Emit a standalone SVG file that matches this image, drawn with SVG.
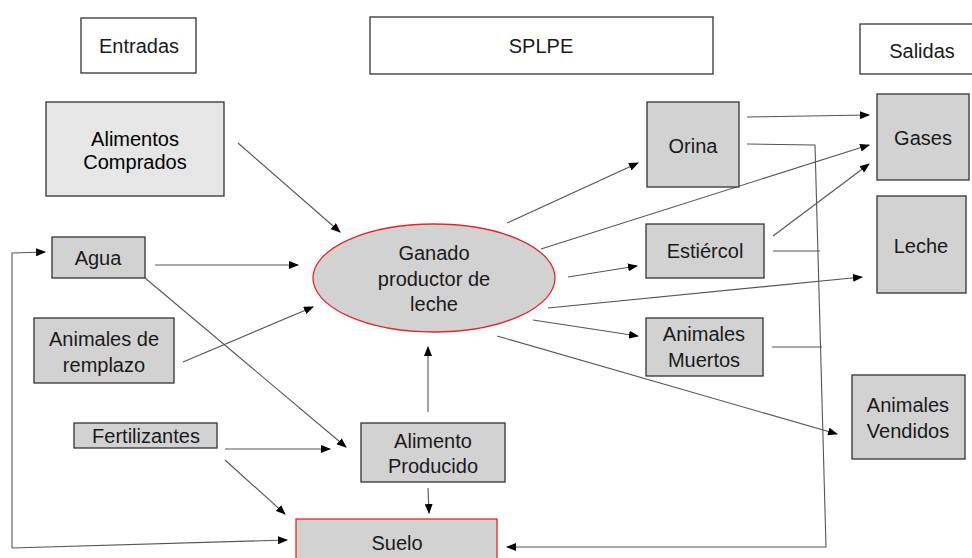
<svg xmlns="http://www.w3.org/2000/svg" width="972" height="558" viewBox="0 0 972 558">
<style>
.t{font-family:"Liberation Sans","Open Sans",sans-serif;font-size:20px;fill:#1a1a1a;text-anchor:middle}
.a{font-family:"Liberation Sans",Arial,sans-serif;font-size:20px;fill:#000;text-anchor:middle}
.w{fill:#fff;stroke:#333;stroke-width:1.3}
.g{fill:#d3d2d3;stroke:#333;stroke-width:1.3}
.lg{fill:#e6e6e6;stroke:#333;stroke-width:1.3}
.r{fill:#d3d2d3;stroke:#e8242a;stroke-width:1.3}
.c{fill:none;stroke:#555;stroke-width:1.1}
.m{marker-end:url(#ah)}
</style>
<defs>
<marker id="ah" markerWidth="10" markerHeight="8" refX="9" refY="4" orient="auto" markerUnits="userSpaceOnUse">
<path d="M0,0 L10,4 L0,8 Z" fill="#000"/>
</marker>
</defs>
<rect width="972" height="558" fill="#fff"/>
<g id="connectors">
<line class="c m" x1="238" y1="143" x2="340" y2="232"/>
<line class="c m" x1="155" y1="265" x2="298" y2="265"/>
<line class="c m" x1="145" y1="278" x2="346" y2="447"/>
<line class="c m" x1="183" y1="362" x2="313" y2="307"/>
<line class="c m" x1="225" y1="449" x2="330" y2="449"/>
<line class="c m" x1="225" y1="460" x2="285" y2="514"/>
<polyline class="c m" points="12,548 12,253 45,252"/>
<line class="c m" x1="12" y1="548" x2="287" y2="540"/>
<line class="c m" x1="428" y1="412" x2="428" y2="347"/>
<line class="c m" x1="428" y1="488" x2="429" y2="513"/>
<polyline class="c m" points="747,144 815,145 826,547 507,547"/>
<line class="c" x1="773" y1="251" x2="820" y2="251"/>
<line class="c" x1="772" y1="347" x2="822" y2="347"/>
<line class="c m" x1="747" y1="117" x2="869" y2="115"/>
<line class="c m" x1="541" y1="249" x2="869" y2="145"/>
<line class="c m" x1="773" y1="236" x2="869" y2="164"/>
<line class="c m" x1="507" y1="223" x2="638" y2="163"/>
<line class="c m" x1="568" y1="277" x2="637" y2="266"/>
<line class="c m" x1="548" y1="308" x2="862" y2="277"/>
<line class="c m" x1="533" y1="320" x2="638" y2="336"/>
<line class="c m" x1="497" y1="336" x2="837" y2="434"/>
</g>
<g id="entradas"><rect class="w" x="81" y="18" width="115" height="55"/><text class="t" x="139" y="53">Entradas</text></g>
<g id="splpe"><rect class="w" x="370" y="17" width="343" height="57"/><text class="t" x="541" y="53">SPLPE</text></g>
<g id="salidas"><rect class="w" x="860" y="24" width="116" height="50"/><text class="t" x="922" y="58">Salidas</text></g>
<g id="alimentos-comprados"><rect class="lg" x="46" y="102" width="178" height="94"/><text class="a" x="135" y="146">Alimentos</text><text class="a" x="135" y="169">Comprados</text></g>
<g id="agua"><rect class="g" x="52" y="237" width="93" height="41"/><text class="t" x="98" y="265">Agua</text></g>
<g id="animales-remplazo"><rect class="g" x="34" y="318" width="140" height="65"/><text class="t" x="104" y="346">Animales de</text><text class="t" x="104" y="372">remplazo</text></g>
<g id="fertilizantes"><rect class="g" x="74" y="423" width="143" height="25"/><text class="t" x="146" y="443">Fertilizantes</text></g>
<g id="ganado"><ellipse class="r" cx="434" cy="278" rx="121" ry="54"/><text class="t" x="434" y="260">Ganado</text><text class="t" x="434" y="286">productor de</text><text class="t" x="434" y="311">leche</text></g>
<g id="alimento-producido"><rect class="g" x="361" y="423" width="144" height="59"/><text class="t" x="433" y="448">Alimento</text><text class="t" x="433" y="473">Producido</text></g>
<g id="suelo"><rect class="r" x="296" y="519" width="201" height="45"/><text class="t" x="397" y="550">Suelo</text></g>
<g id="orina"><rect class="g" x="647" y="102" width="92" height="85"/><text class="t" x="693" y="153">Orina</text></g>
<g id="estiercol"><rect class="g" x="646" y="224" width="118" height="54"/><text class="t" x="705" y="258">Estiércol</text></g>
<g id="animales-muertos"><rect class="g" x="646" y="318" width="117" height="58"/><text class="t" x="704" y="341">Animales</text><text class="t" x="704" y="367">Muertos</text></g>
<g id="gases"><rect class="g" x="877" y="94" width="92" height="86"/><text class="t" x="923" y="145">Gases</text></g>
<g id="leche"><rect class="g" x="877" y="196" width="89" height="97"/><text class="t" x="921" y="253">Leche</text></g>
<g id="animales-vendidos"><rect class="g" x="852" y="375" width="113" height="84"/><text class="t" x="908" y="412">Animales</text><text class="t" x="908" y="438">Vendidos</text></g>
</svg>
